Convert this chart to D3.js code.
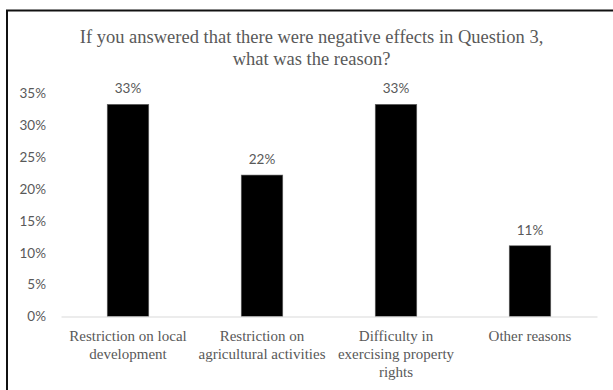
<!DOCTYPE html>
<html>
<head>
<meta charset="utf-8">
<script src="https://cdn.jsdelivr.net/npm/d3@7"></script>
<style>
  html, body { margin: 0; padding: 0; background: #fff; }
  svg { display: block; }
</style>
</head>
<body>
<svg id="chart" width="613" height="390"></svg>
<script>
const titleLines = ["If you answered that there were negative effects in Question 3,", "what was the reason?"];
const categories = ["Restriction on local development", "Restriction on agricultural activities", "Difficulty in exercising property rights", "Other reasons"];
const categoryLines = [
  ["Restriction on local", "development"],
  ["Restriction on", "agricultural activities"],
  ["Difficulty in", "exercising property", "rights"],
  ["Other reasons"]
];
const values = [0.333, 0.222, 0.333, 0.111];
const yTicks = [0, 0.05, 0.10, 0.15, 0.20, 0.25, 0.30, 0.35];

const svg = d3.select("#chart");
const grey = "#595959";

// outer frame (extends past right and bottom edges)
svg.append("rect")
  .attr("x", 7).attr("y", 10.5)
  .attr("width", 640).attr("height", 420)
  .attr("fill", "none").attr("stroke", "#111").attr("stroke-width", 2);

// title
svg.append("g").selectAll("text").data(titleLines).join("text")
  .attr("x", 311.5)
  .attr("y", (d, i) => 43 + i * 22)
  .attr("text-anchor", "middle")
  .attr("font-family", "'Liberation Serif', 'Times New Roman', serif")
  .attr("font-size", 18.5)
  .attr("fill", grey)
  .text(d => d);

const x = d3.scaleBand().domain(categories).range([61, 597]).paddingInner(0.69).paddingOuter(0.345);
const y = d3.scaleLinear().domain([0, 0.35]).range([316.5, 93.5]);

// y axis labels
const yAxis = d3.axisLeft(y).tickValues(yTicks).tickFormat(d3.format(".0%")).tickSize(0).tickPadding(0);
const yg = svg.append("g").attr("transform", "translate(46,0)").call(yAxis);
yg.select(".domain").remove();
yg.selectAll("text")
  .attr("font-family", "Lato, 'Open Sans', sans-serif")
  .attr("font-size", 13.5)
  .attr("fill", grey);

// bars
svg.append("g").selectAll("rect").data(values).join("rect")
  .attr("x", (d, i) => x(categories[i]))
  .attr("y", d => y(d))
  .attr("width", x.bandwidth())
  .attr("height", d => y(0) - y(d))
  .attr("fill", "#000")
  .attr("stroke", "#666")
  .attr("stroke-width", 0.6);

// x axis line
const xAxis = d3.axisBottom(x).tickSize(0).tickFormat("");
const xg = svg.append("g").attr("transform", `translate(0,${y(0)})`).call(xAxis);
xg.select(".domain").attr("stroke", "#d9d9d9").attr("stroke-width", 1.2);

// value labels
svg.append("g").selectAll("text").data(values).join("text")
  .attr("x", (d, i) => x(categories[i]) + x.bandwidth() / 2)
  .attr("y", d => y(d) - 11)
  .attr("text-anchor", "middle")
  .attr("font-family", "Lato, 'Open Sans', sans-serif")
  .attr("font-size", 13.5)
  .attr("fill", grey)
  .text(d => d3.format(".0%")(d));

// category labels
const cg = svg.append("g").selectAll("text").data(categoryLines).join("text")
  .attr("text-anchor", "middle")
  .attr("font-family", "'Liberation Serif', 'Times New Roman', serif")
  .attr("font-size", 15)
  .attr("fill", grey);
cg.each(function(lines, i) {
  const cx = x(categories[i]) + x.bandwidth() / 2;
  d3.select(this).selectAll("tspan").data(lines).join("tspan")
    .attr("x", cx)
    .attr("y", (d, j) => 341 + j * 18)
    .text(d => d);
});
</script>
</body>
</html>
